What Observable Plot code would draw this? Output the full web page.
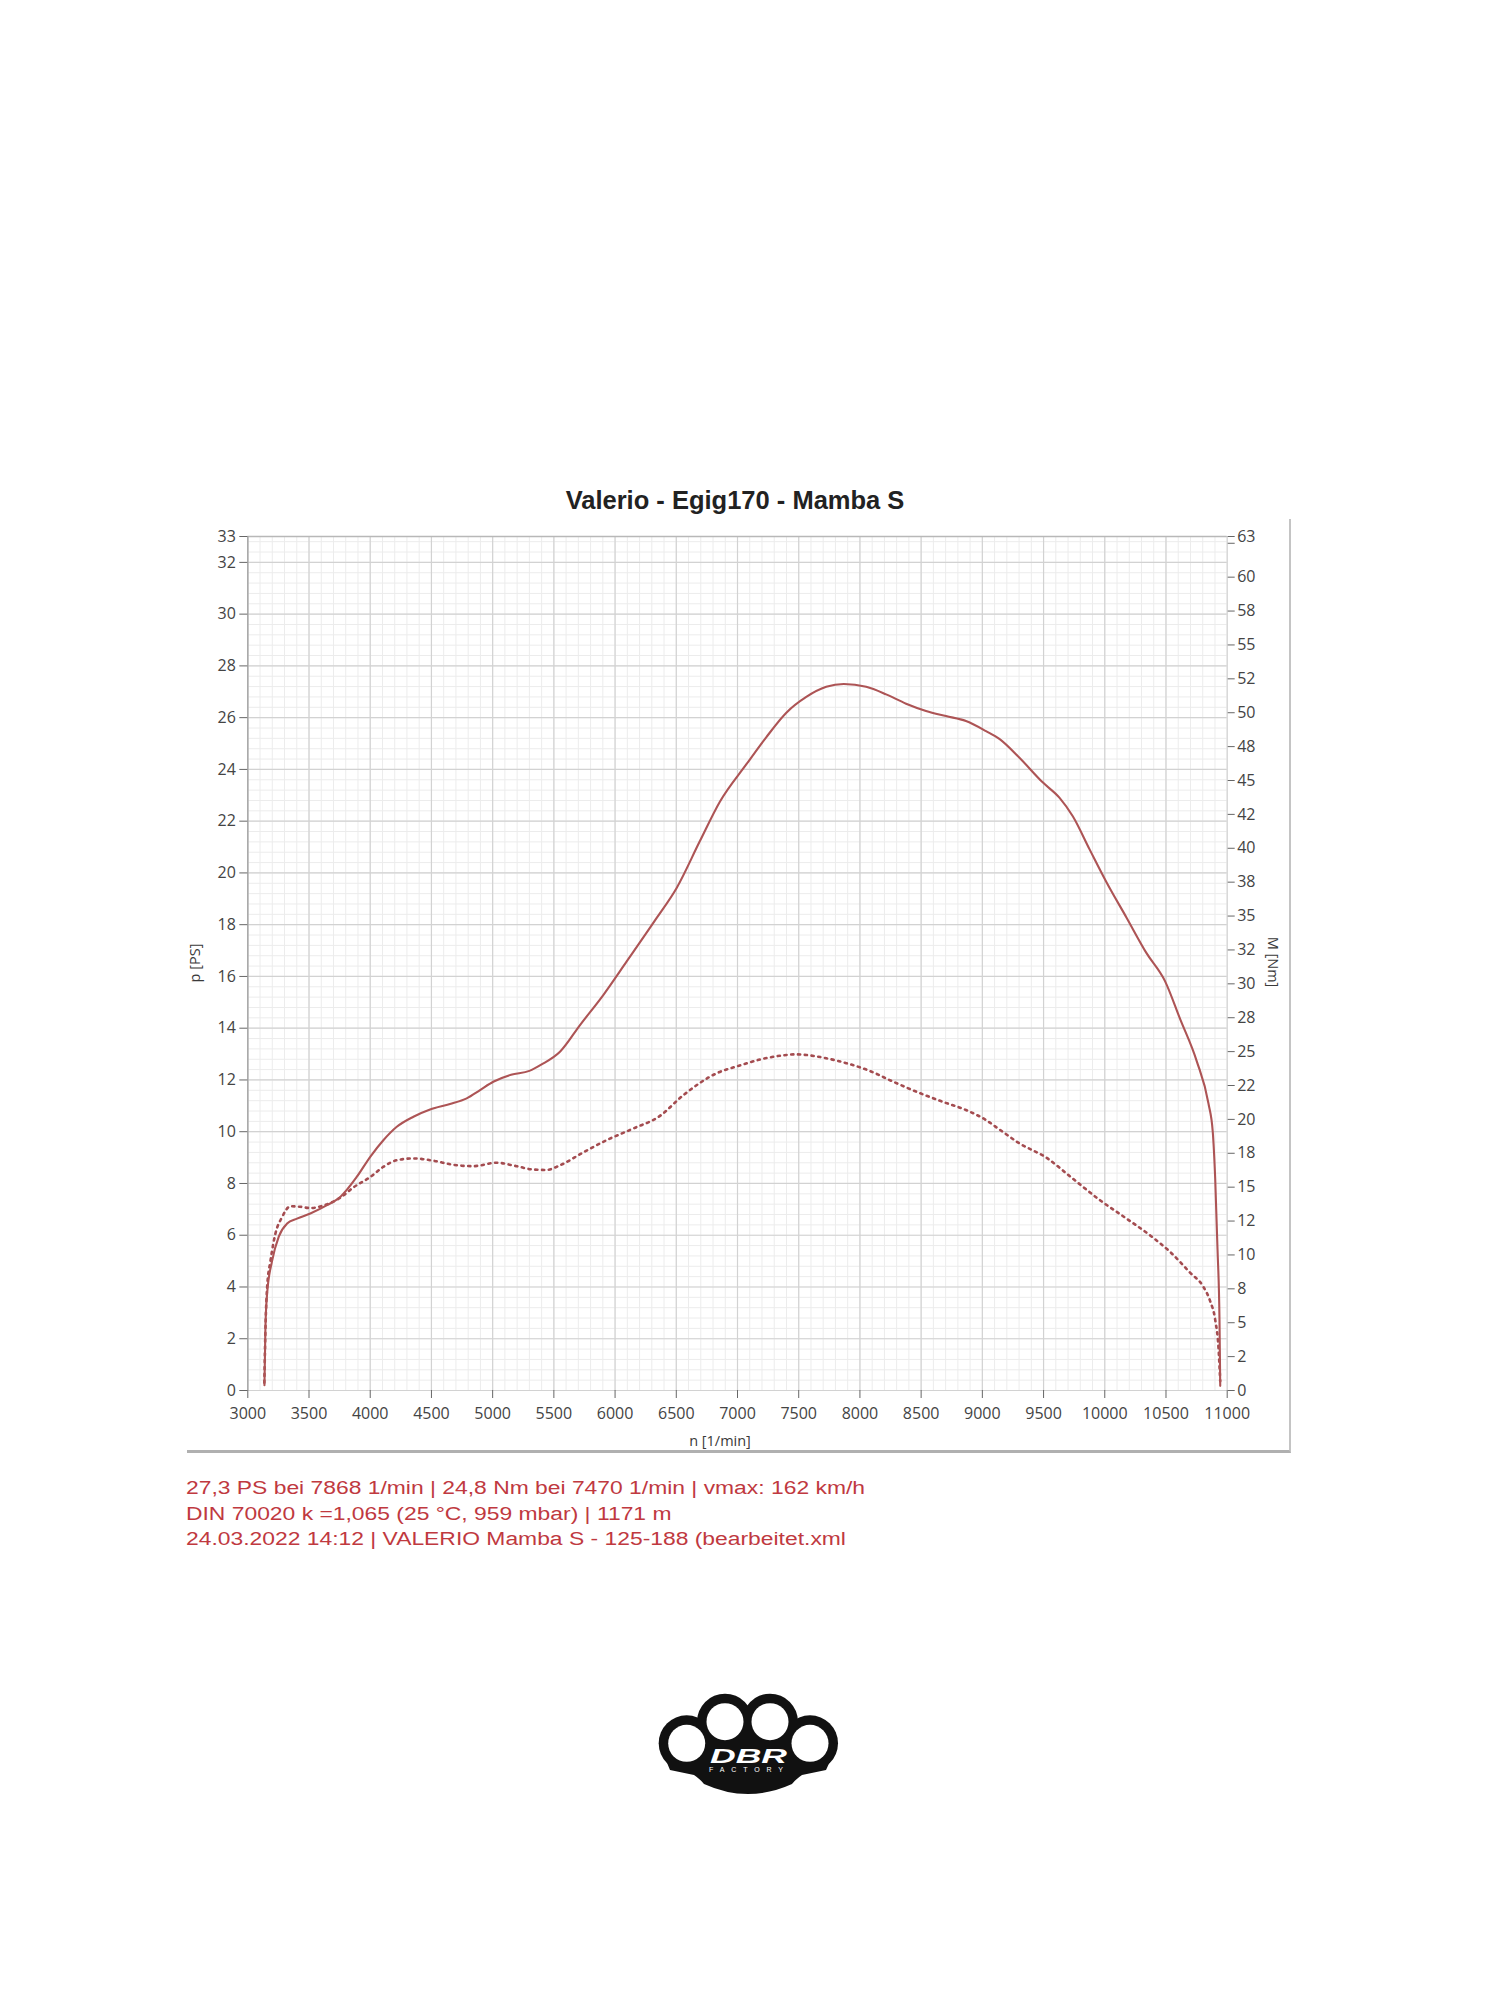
<!DOCTYPE html>
<html>
<head>
<meta charset="utf-8">
<script src="https://cdn.jsdelivr.net/npm/d3@7"></script>
<script src="https://cdn.jsdelivr.net/npm/@observablehq/plot@0.6"></script>
<style>
  html, body { margin: 0; padding: 0; background: #fff; }
  body { width: 1500px; height: 2000px; position: relative; overflow: hidden; font-family: "Liberation Sans", Arial, sans-serif; }
  #title { position: absolute; left: 435px; width: 600px; top: 488px; line-height: 25.5px; text-align: center; font-weight: bold; font-size: 25.5px; color: #222; white-space: nowrap; }
  #frame { position: absolute; left: 187px; top: 519px; width: 1102px; height: 931px; border-right: 2px solid #c4c4c4; border-bottom: 3px solid #b0b0b0; }
  #chart { position: absolute; left: 120px; top: 520px; }
  .axlabel { position: absolute; font-family: "Open Sans", sans-serif; font-size: 14.5px; color: #3a3a3a; white-space: nowrap; }
  #caption { position: absolute; left: 186px; top: 1476px; font-size: 18px; line-height: 25.5px; color: #c0393f; white-space: nowrap; transform: scaleX(1.27); transform-origin: 0 0; }
  #logo { position: absolute; left: 640px; top: 1680px; }
</style>
</head>
<body>
<div id="title"></div>
<div id="frame"></div>
<div id="chart"></div>
<div class="axlabel" id="ylabL" style="left:194px;top:963px;transform:translate(-50%,-50%) rotate(-90deg);"></div>
<div class="axlabel" id="ylabR" style="left:1273px;top:962px;transform:translate(-50%,-50%) rotate(90deg);"></div>
<div class="axlabel" id="xlab" style="left:720px;top:1440px;transform:translate(-50%,-50%);"></div>
<div id="caption"></div>
<svg id="logo" width="220" height="140" viewBox="0 0 220 140">
  <g fill="#111">
    <circle cx="46.7" cy="63.3" r="28"/>
    <circle cx="85" cy="41.7" r="28"/>
    <circle cx="130" cy="41.7" r="28"/>
    <circle cx="170" cy="63.3" r="28"/>
    <path d="M20,66 L30,90 L54,95 Q60,99 64,104 Q108,124 152,104 Q156,99 162,95 L186,90 L197,66 L170,40 L48,40 Z"/>
  </g>
  <g fill="#fff">
    <circle cx="46.7" cy="63.3" r="18.5"/>
    <circle cx="85" cy="41.7" r="18.5"/>
    <circle cx="130" cy="41.7" r="18.5"/>
    <circle cx="170" cy="63.3" r="18.5"/>
  </g>
  <text x="70" y="83" font-family="Liberation Sans, Arial" font-weight="bold" font-style="italic" font-size="21" fill="#fff" textLength="77" lengthAdjust="spacingAndGlyphs">DBR</text>
  <text x="69" y="92" font-family="Liberation Sans, Arial" font-size="7" fill="#fff" textLength="74" lengthAdjust="spacing">FACTORY</text>
</svg>
<script>
// ---- text ----
const titleText = "Valerio - Egig170 - Mamba S";
const yLabelLeft = "p [PS]";
const yLabelRight = "M [Nm]";
const xLabel = "n [1/min]";
const captionLines = [
  "27,3 PS bei 7868 1/min | 24,8 Nm bei 7470 1/min | vmax: 162 km/h",
  "DIN 70020 k =1,065 (25 °C, 959 mbar) | 1171 m",
  "24.03.2022 14:12 | VALERIO Mamba S - 125-188 (bearbeitet.xml"
];

// ---- scales / ticks ----
const xDomain = [3000, 11000];
const pDomain = [0, 33];
const mMax = 63;
const xTicks = [3000, 3500, 4000, 4500, 5000, 5500, 6000, 6500, 7000, 7500, 8000, 8500, 9000, 9500, 10000, 10500, 11000];
const pTicks = [0, 2, 4, 6, 8, 10, 12, 14, 16, 18, 20, 22, 24, 26, 28, 30, 32, 33];
const mTicks = [0, 2.5, 5, 7.5, 10, 12.5, 15, 17.5, 20, 22.5, 25, 27.5, 30, 32.5, 35, 37.5, 40, 42.5, 45, 47.5, 50, 52.5, 55, 57.5, 60, 62.5, 63];
const mTickLabels = ["0", "2", "5", "8", "10", "12", "15", "18", "20", "22", "25", "28", "30", "32", "35", "38", "40", "42", "45", "48", "50", "52", "55", "58", "60", "", "63"];

// ---- power curve (solid): rpm, PS ----
const powerRpm = [3136, 3144, 3158, 3198, 3253, 3321, 3402, 3511, 3647, 3755, 3891, 4000, 4109, 4217, 4353, 4489, 4652, 4788, 4897, 5005, 5150, 5300, 5400, 5552, 5715, 5905, 6095, 6340, 6503, 6693, 6856, 7073, 7236, 7399, 7562, 7725, 7868, 8051, 8214, 8377, 8540, 8703, 8866, 9030, 9139, 9303, 9495, 9631, 9740, 9877, 10014, 10178, 10341, 10492, 10615, 10751, 10847, 10882, 10902, 10921, 10937, 10943];
const powerPS  = [0.2, 2.45, 3.75, 5.0, 5.95, 6.45, 6.64, 6.84, 7.16, 7.48, 8.26, 9.03, 9.68, 10.19, 10.58, 10.86, 11.07, 11.29, 11.61, 11.93, 12.2, 12.35, 12.6, 13.1, 14.13, 15.29, 16.58, 18.26, 19.42, 21.23, 22.75, 24.2, 25.25, 26.19, 26.8, 27.19, 27.3, 27.19, 26.9, 26.54, 26.26, 26.06, 25.87, 25.48, 25.18, 24.45, 23.49, 22.9, 22.18, 20.9, 19.64, 18.27, 16.9, 15.82, 14.36, 12.73, 11.09, 10.0, 8.18, 5.45, 2.73, 0.18];

// ---- torque curve (dotted): rpm, Nm ----
const torqueRpm = [3135, 3140, 3146, 3158, 3185, 3225, 3280, 3348, 3429, 3511, 3620, 3755, 3864, 4000, 4109, 4217, 4353, 4516, 4679, 4842, 5032, 5195, 5331, 5440, 5549, 5739, 5929, 6147, 6364, 6554, 6829, 7019, 7209, 7399, 7470, 7562, 7725, 7888, 8079, 8269, 8459, 8676, 8866, 9030, 9139, 9303, 9522, 9740, 9959, 10178, 10369, 10533, 10697, 10806, 10861, 10902, 10929, 10943];
const torqueNm  = [0.57, 2.86, 5.15, 7.64, 9.55, 11.55, 12.79, 13.59, 13.55, 13.46, 13.65, 14.22, 14.99, 15.75, 16.51, 16.99, 17.12, 16.95, 16.65, 16.55, 16.8, 16.55, 16.3, 16.27, 16.61, 17.56, 18.46, 19.32, 20.24, 21.76, 23.4, 23.98, 24.47, 24.75, 24.8, 24.75, 24.51, 24.15, 23.58, 22.79, 22.05, 21.3, 20.69, 19.95, 19.26, 18.23, 17.18, 15.62, 14.05, 12.68, 11.45, 10.23, 8.69, 7.64, 6.59, 5.21, 3.13, 0.69];

// grid subdivisions
const minorX = d3.range(xDomain[0], xDomain[1] + 1, 100);
const minorY = d3.range(0, pDomain[1] + 0.001, 0.4);

const power = powerRpm.map((n, i) => ({n, p: powerPS[i]}));
const torque = torqueRpm.map((n, i) => ({n, m: torqueNm[i]}));
const toP = m => m * pDomain[1] / mMax;
const mTickPos = mTicks.map(toP);
const mLabelMap = new Map(mTickPos.map((v, i) => [v, mTickLabels[i]]));

document.getElementById("title").textContent = titleText;
document.getElementById("ylabL").textContent = yLabelLeft;
document.getElementById("ylabR").textContent = yLabelRight;
document.getElementById("xlab").textContent = xLabel;
const cap = document.getElementById("caption");
captionLines.forEach(t => { const d = document.createElement("div"); d.textContent = t; cap.appendChild(d); });

const lineColor = "#ad5455";
const chart = Plot.plot({
  width: 1200,
  height: 940,
  marginLeft: 127.3,
  marginRight: 93.3,
  marginTop: 16,
  marginBottom: 70,
  style: {fontFamily: "'Open Sans', sans-serif", fontSize: "16px", color: "#444", background: "transparent", overflow: "visible"},
  x: {domain: xDomain},
  y: {domain: pDomain},
  marks: [
    Plot.gridX(minorX, {stroke: "#ececec", strokeOpacity: 1, strokeWidth: 1}),
    Plot.gridY(minorY, {stroke: "#ececec", strokeOpacity: 1, strokeWidth: 1}),
    Plot.gridX(xTicks, {stroke: "#d2d2d2", strokeOpacity: 1, strokeWidth: 1.2}),
    Plot.gridY(pTicks, {stroke: "#d2d2d2", strokeOpacity: 1, strokeWidth: 1.2}),
    Plot.ruleY([pDomain[1]], {stroke: "#b8b8b8", strokeWidth: 1.5}),
    Plot.ruleX([xDomain[0]], {stroke: "#a8a8a8", strokeWidth: 1.5}),
    Plot.axisX(xTicks, {anchor: "bottom", tickSize: 8, tickPadding: 9, tickFormat: d => String(d), label: null, stroke: "#666", fill: "#444", fontSize: 16}),
    Plot.axisY(pTicks, {anchor: "left", tickSize: 8, tickPadding: 4, tickFormat: d => String(d), label: null, stroke: "#666", fill: "#444", fontSize: 16}),
    Plot.axisY(mTickPos, {anchor: "right", tickSize: 7, tickPadding: 3, tickFormat: d => mLabelMap.get(d), label: null, stroke: "#666", fill: "#444", fontSize: 16}),
    Plot.line(torque, {x: "n", y: d => toP(d.m), stroke: "#a44c50", strokeWidth: 2.6, strokeDasharray: "2.2,4.6", curve: "monotone-x"}),
    Plot.line(power, {x: "n", y: "p", stroke: lineColor, strokeWidth: 2.1, curve: "monotone-x"})
  ]
});
document.getElementById("chart").appendChild(chart);
</script>
</body>
</html>
